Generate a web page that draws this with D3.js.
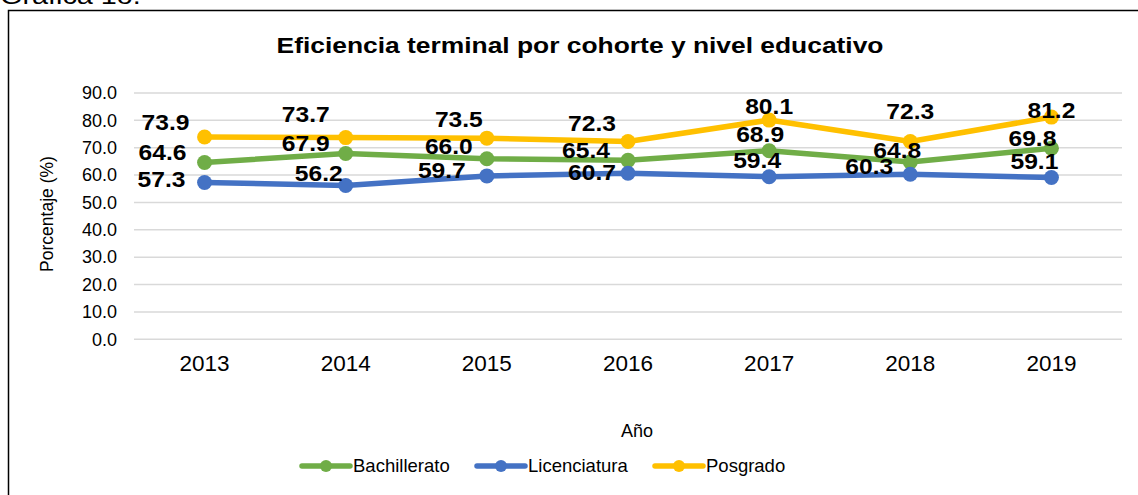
<!DOCTYPE html>
<html>
<head>
<meta charset="utf-8">
<script src="https://cdn.jsdelivr.net/npm/d3@7"></script>
<style>
  body { margin: 0; background: #fff; }
  svg { display: block; font-family: Arial, "Liberation Sans", sans-serif; }
</style>
</head>
<body>
<div id="chart"></div>
<script>
// data
var years = ["2013", "2014", "2015", "2016", "2017", "2018", "2019"];
var bachillerato = [64.6, 67.9, 66.0, 65.4, 68.9, 64.8, 69.8];
var licenciatura = [57.3, 56.2, 59.7, 60.7, 59.4, 60.3, 59.1];
var posgrado = [73.9, 73.7, 73.5, 72.3, 80.1, 72.3, 81.2];
var yTicks = [0, 10, 20, 30, 40, 50, 60, 70, 80, 90];

// label nudges (px) so the numbers sit where Excel put them
var bachOffsets = [[-42, -10], [-40, -10], [-38, -12], [-42, -10], [-9, -16], [-13, -12], [-19, -10]];
var licOffsets = [[-43, -3], [-27, -12], [-45, -6], [-36, -1], [-12, -16], [-41, -8], [-17, -16]];
var posOffsets = [[-39, -15], [-40, -23], [-28, -19], [-36, -18], [0, -14], [0, -30], [0, -7]];

(function () {
    var width = 1138,
        height = 495;
    var margin = { top: 93, right: 16, bottom: 156, left: 134 };

    var svg = d3.select("#chart")
                .append("svg")
                .attr("width", width)
                .attr("height", height);

    // caption cut off at the top of the page (text in the source looks a bit stretched)
    svg.append("text")
        .attr("transform", "translate(0,4) scale(1.2,1)")
        .style("font-size", "24px")
        .text("Gráfica 1o.");

    // chart frame (runs off the right and bottom edge)
    svg.append("rect")
        .attr("x", 8.5)
        .attr("y", 10.5)
        .attr("width", width)
        .attr("height", height)
        .attr("fill", "none")
        .attr("stroke", "#000")
        .attr("stroke-width", 1.5);

    var innerW = 1122 - margin.left,
        innerH = 339.3 - margin.top;

    var g = svg.append("g")
        .attr("transform", "translate(" + margin.left + "," + margin.top + ")");

    var xScale = d3.scaleBand()
                   .domain(years)
                   .range([0, innerW]);

    var yScale = d3.scaleLinear()
                   .domain([0, 90])
                   .range([innerH, 0]);

    // grid
    g.selectAll(".grid")
        .data(yTicks)
        .enter()
        .append("line")
        .attr("x1", 0)
        .attr("x2", innerW)
        .attr("y1", function(d) { return yScale(d); })
        .attr("y2", function(d) { return yScale(d); })
        .attr("stroke", "#d9d9d9")
        .attr("stroke-width", 1.5);

    // y axis
    var yAxis = g.append("g")
        .call(d3.axisLeft(yScale).tickValues(yTicks).tickFormat(d3.format(".1f")).tickSize(0).tickPadding(17));
    yAxis.select(".domain").remove();
    yAxis.selectAll("text").style("font-size", "18px").attr("fill", "#000").attr("font-family", null);

    // x axis
    var xAxis = g.append("g")
        .attr("transform", "translate(0," + innerH + ")")
        .call(d3.axisBottom(xScale).tickSize(0).tickPadding(16));
    xAxis.select(".domain").remove();
    xAxis.selectAll("text").style("font-size", "22.5px").attr("fill", "#000").attr("font-family", null);

    var series = [
        { name: "Bachillerato", values: bachillerato, color: "#70ad47", offsets: bachOffsets },
        { name: "Licenciatura", values: licenciatura, color: "#4472c4", offsets: licOffsets },
        { name: "Posgrado", values: posgrado, color: "#ffc000", offsets: posOffsets }
    ];

    var line = d3.line()
        .x(function(d, i) { return xScale(years[i]) + xScale.bandwidth() / 2; })
        .y(function(d) { return yScale(d); });

    // lines + markers
    series.forEach(function(s) {
        g.append("path")
            .datum(s.values)
            .attr("d", line)
            .attr("fill", "none")
            .attr("stroke", s.color)
            .attr("stroke-width", 5.5)
            .attr("stroke-linejoin", "round")
            .attr("stroke-linecap", "round");

        g.selectAll(null)
            .data(s.values)
            .enter()
            .append("circle")
            .attr("cx", function(d, i) { return xScale(years[i]) + xScale.bandwidth() / 2; })
            .attr("cy", function(d) { return yScale(d); })
            .attr("r", 7.5)
            .attr("fill", s.color);
    });

    // data labels drawn after all lines so they stay on top
    series.forEach(function(s) {
        g.selectAll(null)
            .data(s.values)
            .enter()
            .append("text")
            .text(function(d) { return d.toFixed(1); })
            .attr("transform", function(d, i) {
                var x = xScale(years[i]) + xScale.bandwidth() / 2 + s.offsets[i][0],
                    y = yScale(d) + s.offsets[i][1];
                return "translate(" + x + "," + y + ") scale(1.12,1)";
            })
            .attr("dy", "0.35em")
            .style("text-anchor", "middle")
            .style("font-size", "22px")
            .style("font-weight", "bold");
    });

    // title
    svg.append("text")
        .attr("transform", "translate(580,53) scale(1.2,1)")
        .style("text-anchor", "middle")
        .style("font-size", "22px")
        .style("font-weight", "bold")
        .text("Eficiencia terminal por cohorte y nivel educativo");

    // axis titles
    svg.append("text")
        .attr("x", 637)
        .attr("y", 437)
        .style("text-anchor", "middle")
        .style("font-size", "18px")
        .text("Año");

    svg.append("text")
        .attr("transform", "translate(53,214) rotate(-90)")
        .style("text-anchor", "middle")
        .style("font-size", "17.5px")
        .text("Porcentaje (%)");

    // legend
    var legendX = [302, 477, 655];
    var legend = svg.selectAll(".legend")
        .data(series)
        .enter()
        .append("g")
        .attr("transform", function(d, i) { return "translate(" + legendX[i] + ",466)"; });

    legend.append("line")
        .attr("x1", 0).attr("x2", 48)
        .attr("stroke", function(d) { return d.color; })
        .attr("stroke-width", 5.5)
        .attr("stroke-linecap", "round");
    legend.append("circle")
        .attr("cx", 24)
        .attr("r", 6)
        .attr("fill", function(d) { return d.color; });
    legend.append("text")
        .attr("x", 51)
        .attr("dy", "0.35em")
        .style("font-size", "18.5px")
        .text(function(d) { return d.name; });
})();
</script>
</body>
</html>
